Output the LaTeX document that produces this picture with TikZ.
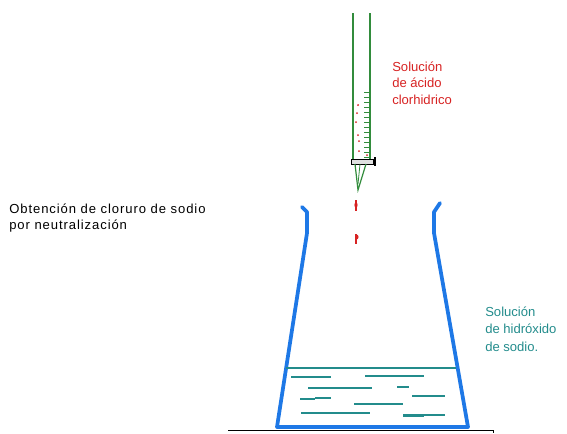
\documentclass[tikz,border=0pt]{standalone}
\usepackage{fontspec}
\setmainfont{Liberation Sans}
\definecolor{vidrio}{RGB}{30,120,230}
\definecolor{bureta}{RGB}{50,140,60}
\definecolor{acido}{RGB}{215,35,35}
\definecolor{sosa}{RGB}{35,140,140}

\begin{document}
\begin{tikzpicture}[
  x=0.75pt, y=-0.75pt,
  label/.style={anchor=base west, inner sep=0pt, align=left,
    font=\fontsize{9.8}{12.2}\selectfont},
  buret/.style={draw=bureta, line width=0.9pt},
  flask/.style={draw=vidrio, line width=2.8pt, line join=round, line cap=round},
  liquid/.style={draw=sosa, line width=0.9pt},
  drop/.style={fill=acido}
]
\useasboundingbox (0,0) rectangle (567,433);

% textos (anclados en la linea base de la ultima fila)
\node[label, font=\fontsize{9.8}{11.5}\selectfont\addfontfeature{LetterSpace=7}] (titulo)
  at (9,229) {Obtención de cloruro de sodio\\por neutralización};
\node[label, text=acido] (hcl) at (392,104) {Solución\\de ácido\\clorhidrico};
\node[label, text=sosa, font=\fontsize{9.8}{12.8}\selectfont] (naoh)
  at (485,351) {Solución\\de hidróxido\\de sodio.};

% bureta
\draw[buret] (353,13) -- (353,159);
\draw[buret] (370,13) -- (370,159);
\foreach \y in {92,97,...,157}
  \draw[buret, line width=0.7pt] (364,\y) -- (370,\y);
\foreach \p in {(358,105),(357,113),(356,122),(358,135),(359,141),(359,151),(367,155)}
  \fill[acido] \p circle (1);
\draw[black, fill=black!12, line width=0.7pt] (351,159) rectangle (373,164);
\draw[black, line width=1.2pt] (375,157) -- (375,166);
\draw[buret] (355,164) -- (358,190) -- (366,164);
\draw[buret, line width=0.6pt] (360,164) -- (358,184);

% gotas
\draw[acido, line width=0.8pt] (356,200) -- (356,211);
\fill[drop] (356,205) ellipse (1.6 and 2.6);
\draw[acido, line width=0.8pt] (356,234) -- (356,244);
\fill[drop] (357,237) ellipse (1.5 and 2.3);

% matraz
\draw[flask] (302,207) -- (307,212) -- (307,233) -- (277,427) -- (468,427)
  -- (434,233) -- (434,212) -- (440,203);

% disolucion
\draw[liquid] (286,368) -- (456,368);
\draw[liquid] (291,377) -- (331,377);
\draw[liquid] (365,376) -- (424,376);
\draw[liquid] (308,388) -- (372,388);
\draw[liquid] (397,387) -- (409,387);
\draw[liquid] (300,399) -- (315,399);
\draw[liquid] (315,398) -- (331,398);
\draw[liquid] (412,396) -- (445,396);
\draw[liquid] (354,404) -- (403,404);
\draw[liquid] (301,413) -- (370,413);
\draw[liquid] (403,415) -- (445,415);
\draw[liquid, line width=1.6pt] (403,415.5) -- (424,415.5);

% mesa
\draw[black, line width=0.7pt] (228,430.5) -- (493,430.5) -- (493,433);
\end{tikzpicture}
\end{document}
